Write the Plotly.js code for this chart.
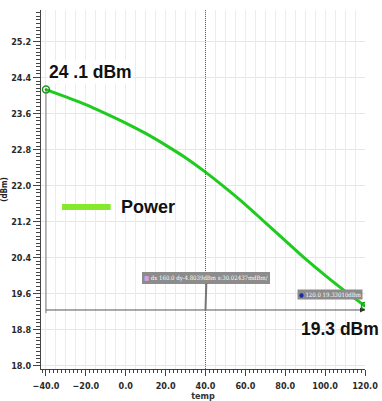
<!DOCTYPE html>
<html><head><meta charset="utf-8">
<script src="https://cdn.plot.ly/plotly-3.0.1.min.js"></script>
<style>html,body{margin:0;padding:0;background:#fff}#c{width:382px;height:401px}</style>
</head><body><div id="c"></div>
<script>
const temp = [-40, -30, -20, -10, 0, 10, 20, 30, 40, 50, 60, 70, 80, 90, 100, 110, 120];
const power = [24.134, 23.97, 23.80, 23.60, 23.39, 23.16, 22.90, 22.62, 22.30, 21.95, 21.58, 21.18, 20.78, 20.38, 20.01, 19.66, 19.3301];
const seriesName = 'Power';
const cursorX = 40;
const startLabel = '24 .1 dBm';
const endLabel = '19.3 dBm';

const n = temp.length;
const x0 = temp[0], x1 = temp[n-1], y0 = power[0], y1 = power[n-1];
const dx = x1 - x0, dy = y1 - y0;
const deltaText = 'dx ' + dx.toFixed(1) + ' dy' + dy.toFixed(4) + 'dBm s:' + (Math.abs(dy/dx)*1000).toFixed(5) + 'mdBm/';
const pointText = x1.toFixed(1) + ' ' + y1.toFixed(5) + 'dBm';

const tickFont = {family: 'DejaVu Sans Condensed', size: 9, color: '#2a2a2a', weight: 'bold'};

const traces = [
  {x: temp, y: power, mode: 'lines', line: {color: '#1ecb1e', width: 3, shape: 'spline', smoothing: 0.8}, showlegend: false, hoverinfo: 'skip'},
  {x: [x0, x1], y: [y0, y1], mode: 'markers', showlegend: false,
   marker: {symbol: 'circle-dot', size: 7, color: 'rgba(0,0,0,0)', line: {color: '#1a9a1a', width: 1.5}}},
  {x: [x0, x1], y: [y0, y1], xaxis: 'x2', mode: 'none', showlegend: false, hoverinfo: 'skip'}
];

const layout = {
  width: 382, height: 401,
  margin: {l: 41, r: 17, t: 10, b: 32},
  paper_bgcolor: '#fff', plot_bgcolor: '#fff',
  showlegend: false,
  xaxis: {
    range: [-42.5, 120], tickmode: 'linear', tick0: -40, dtick: 20, tickformat: '.1f',
    showgrid: false, zeroline: false, showline: true, linecolor: '#444', linewidth: 1,
    ticks: 'outside', ticklen: 6, tickcolor: '#444', tickfont: tickFont, ticklabelstandoff: 2,
    minor: {tickmode: 'linear', tick0: -40, dtick: 2, ticks: 'outside', ticklen: 3, tickwidth: 1, tickcolor: '#444', showgrid: false},
    title: {text: 'temp', font: {family: 'DejaVu Sans Condensed', size: 9, color: '#333', weight: 'bold'}, standoff: 1}
  },
  xaxis2: {
    overlaying: 'x', range: [-42.5, 120], tickmode: 'linear', tick0: -40, dtick: 5,
    showgrid: true, gridcolor: '#ececec', gridwidth: 1, showticklabels: false, ticks: '', zeroline: false, showline: false
  },
  yaxis: {
    range: [17.93, 25.9], tickmode: 'linear', tick0: 18.0, dtick: 0.8, tickformat: '.1f',
    showgrid: true, gridcolor: '#e6e6e6', zeroline: false, showline: true, linecolor: '#444', linewidth: 1,
    ticks: 'outside', ticklen: 7, tickcolor: '#444', tickfont: tickFont,
    minor: {tickmode: 'linear', tick0: 18.0, dtick: 0.08, ticks: 'outside', ticklen: 4, tickwidth: 1, tickcolor: '#444', showgrid: false},
    title: {text: '(dBm)', font: {family: 'DejaVu Sans Condensed', size: 8, color: '#222', weight: 'bold'}, standoff: 4}
  },
  shapes: [
    {type: 'line', xref: 'x', yref: 'paper', x0: cursorX, x1: cursorX, y0: 0, y1: 1,
     line: {color: '#666', width: 1, dash: '1px,1px'}},
    {type: 'line', xref: 'x', yref: 'y', x0: x0, x1: x1, y0: y1 - 0.09, y1: y1 - 0.09, line: {color: '#555', width: 1}},
    {type: 'line', xref: 'x', yref: 'y', x0: x0, x1: x0, y0: y0, y1: y1 - 0.16, line: {color: '#777', width: 1}},
    {type: 'line', xref: 'paper', yref: 'paper', x0: 0.065, x1: 0.215, y0: 0.451, y1: 0.451,
     line: {color: '#86e82a', width: 6}}
  ],
  annotations: [
    {xref: 'x', yref: 'y', x: x0, y: y0 + 0.4, xanchor: 'left', yanchor: 'middle', xshift: 1, text: startLabel, showarrow: false,
     bgcolor: '#fff', font: {family: 'Liberation Sans', size: 17.5, color: '#111', weight: 'bold'}},
    {xref: 'paper', yref: 'y', x: 1.05, y: y1 - 0.52, xanchor: 'right', yanchor: 'middle', text: endLabel, showarrow: false,
     font: {family: 'Liberation Sans', size: 17.5, color: '#111', weight: 'bold'}},
    {xref: 'paper', yref: 'paper', x: 0.24, y: 0.451, xanchor: 'left', yanchor: 'middle', text: seriesName, showarrow: false,
     font: {family: 'Liberation Sans', size: 18, color: '#111', weight: 'bold'}},
    {xref: 'x', yref: 'y', x: cursorX, y: y1 - 0.09, ax: 1, ay: -32, text: '<span style="color:#d9a0e0">■</span> ' + deltaText,
     showarrow: true, arrowhead: 0, arrowcolor: '#777', arrowwidth: 2, standoff: 0,
     bgcolor: '#8c8c8c', bordercolor: '#8c8c8c', borderpad: 1,
     font: {family: 'DejaVu Serif Condensed', size: 6, color: '#fff'}},
    {xref: 'x', yref: 'y', x: x1, y: y1 + 0.25, xanchor: 'right', yanchor: 'middle', xshift: -2, text: '<span style="color:#1a2aa0">●</span> ' + pointText,
     showarrow: false, bgcolor: '#8c8c8c', borderpad: 1,
     font: {family: 'DejaVu Serif Condensed', size: 6, color: '#fff'}},
    {xref: 'x', yref: 'y', x: x1, y: y1 - 0.09, ax: -6, ay: 0, text: '', showarrow: true, arrowhead: 2, arrowsize: 1, arrowwidth: 1, arrowcolor: '#333', standoff: 0}
  ]
};

Plotly.newPlot('c', traces, layout, {staticPlot: true, displayModeBar: false});
</script></body></html>
